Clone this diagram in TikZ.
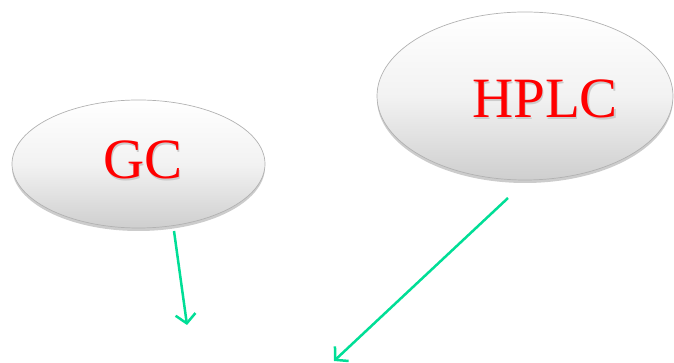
\documentclass[tikz,border=0pt]{standalone}
\usepackage{fontspec}
\setmainfont{Liberation Serif}
\usetikzlibrary{shapes.geometric,shadows,arrows.meta}
\definecolor{arrowteal}{RGB}{0,222,150}
\tikzset{
  bubble/.style={ellipse, draw=gray!60, line width=0.7pt, inner sep=0pt,
    top color=white, bottom color=gray!38, middle color=gray!10,
    drop shadow={shadow xshift=0pt, shadow yshift=-3pt, opacity=0.4, fill=gray}},
  lbl/.style={anchor=base, text=red, inner sep=0pt, font=\fontsize{57}{60}\selectfont},
  lblshadow/.style={anchor=base, text=gray!40, inner sep=0pt, font=\fontsize{57}{60}\selectfont},
  link/.style={draw=arrowteal, line width=2.5pt, -{Straight Barb[length=9pt,width=20pt,line width=2.5pt]}}
}
\begin{document}
\begin{tikzpicture}[x=1pt,y=1pt]
\useasboundingbox (0,0) rectangle (674,363);
\node[bubble, minimum width=253pt, minimum height=128pt] (gc) at (138.5,199) {};
\node[bubble, minimum width=296pt, minimum height=168pt] (hplc) at (525,267) {};
\node[lblshadow] (gcs) at (144.2,182.8) {GC};
\node[lbl] (gct) at (143,184) {GC};
\node[lblshadow] (hplcs) at (546.2,243.8) {HPLC};
\node[lbl] (hplct) at (545,245) {HPLC};
\coordinate (a1s) at (174,132);
\coordinate (a1e) at (187,38);
\coordinate (a2s) at (508,165);
\coordinate (a2e) at (334,2);
\draw[link] (a1s) -- (a1e);
\draw[link] (a2s) -- (a2e);
\end{tikzpicture}
\end{document}
